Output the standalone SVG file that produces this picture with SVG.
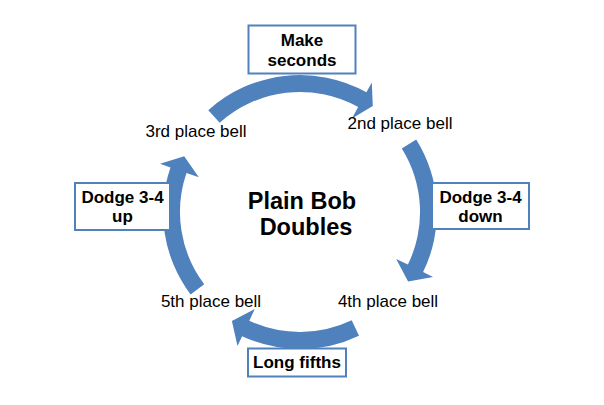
<svg xmlns="http://www.w3.org/2000/svg" width="604" height="405" viewBox="0 0 604 405">
<style>
.arr{fill:#4F81BD;stroke:none}
.box{fill:#FFFFFF;stroke:#4F81BD;stroke-width:2}
.bt{font-family:"Liberation Sans",Arial,sans-serif;font-weight:bold;font-size:17px;fill:#000;text-anchor:middle}
.lbl{font-family:"Liberation Sans",Arial,sans-serif;font-size:17px;fill:#000;text-anchor:middle}
.title{font-family:"Liberation Sans",Arial,sans-serif;font-weight:bold;font-size:23.5px;fill:#000;text-anchor:middle}
</style>
<rect width="604" height="405" fill="#FFFFFF"/>
<g id="connectors">
<path class="arr" d="M208.3,110.2 A137,137 0 0 1 366.4,92.2 L371.8,82.6 L372.8,106.1 L351.9,118.4 L358.2,107.0 A120,120 0 0 0 219.7,122.8 Z"/>
<path class="arr" d="M416.2,139.4 A137,137 0 0 1 423.1,272.1 L433.0,276.9 L408.1,281.4 L396.2,258.9 L407.9,264.6 A120,120 0 0 0 401.8,148.4 Z"/>
<path class="arr" d="M359.0,335.7 A137,137 0 0 1 242.1,336.2 L237.5,346.1 L231.9,321.0 L254.8,309.0 L249.3,320.8 A120,120 0 0 0 351.7,320.3 Z"/>
<path class="arr" d="M190.6,294.4 A137,137 0 0 1 170.5,167.4 L160.1,163.8 L184.2,156.3 L198.8,177.2 L186.5,172.9 A120,120 0 0 0 204.2,284.2 Z"/>
</g>
<g id="title">
<text class="title" x="302" y="209">Plain Bob</text>
<text class="title" x="306" y="235">Doubles</text>
</g>
<g id="bell2"><text class="lbl" x="400" y="129">2nd place bell</text></g>
<g id="bell3"><text class="lbl" x="196" y="137">3rd place bell</text></g>
<g id="bell4"><text class="lbl" x="388" y="307">4th place bell</text></g>
<g id="bell5"><text class="lbl" x="211" y="307">5th place bell</text></g>
<g id="make-seconds">
<rect class="box" x="248.5" y="25.5" width="107" height="48"/>
<text class="bt" x="302" y="46">Make</text>
<text class="bt" x="302" y="65.5">seconds</text>
</g>
<g id="dodge-down">
<rect class="box" x="432" y="183" width="97" height="46"/>
<text class="bt" x="480.5" y="202.5">Dodge 3-4</text>
<text class="bt" x="480.5" y="222">down</text>
</g>
<g id="dodge-up">
<rect class="box" x="75" y="183" width="95" height="47"/>
<text class="bt" x="122.5" y="202.5">Dodge 3-4</text>
<text class="bt" x="122.5" y="222">up</text>
</g>
<g id="long-fifths">
<rect class="box" x="248" y="348.5" width="98" height="28"/>
<text class="bt" x="297" y="368">Long fifths</text>
</g>
</svg>
